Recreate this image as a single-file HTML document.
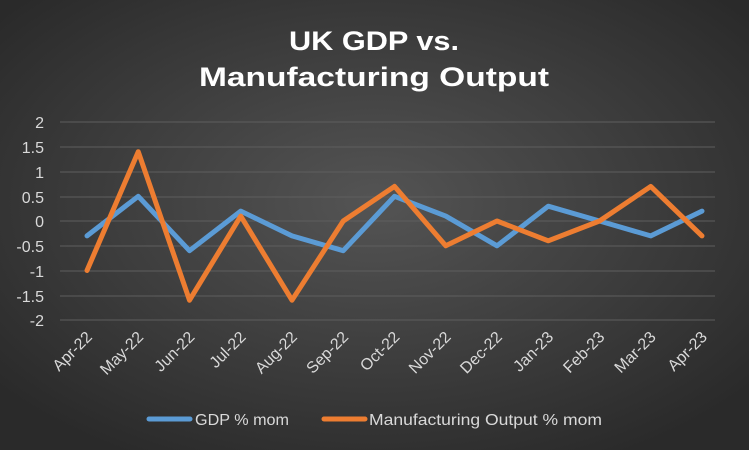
<!DOCTYPE html>
<html><head><meta charset="utf-8"><style>html,body{margin:0;padding:0;}body{width:749px;height:450px;overflow:hidden;}</style></head>
<body>
<svg width="749" height="450" xmlns="http://www.w3.org/2000/svg" font-family="Liberation Sans, sans-serif">
<defs>
<radialGradient id="bg" cx="50%" cy="45%" r="65%">
<stop offset="0" stop-color="#545454"/>
<stop offset="1" stop-color="#2a2a2a"/>
</radialGradient>
</defs>
<rect width="749" height="450" fill="url(#bg)"/>
<g fill="#fff" font-weight="bold" font-size="27" text-anchor="middle">
<text x="374" y="50" textLength="170" lengthAdjust="spacingAndGlyphs">UK GDP vs.</text>
<text x="374" y="86" textLength="350" lengthAdjust="spacingAndGlyphs">Manufacturing Output</text>
</g>
<g stroke="#5e5e5e" stroke-width="1">
<line x1="60" x2="715" y1="122" y2="122"/><line x1="60" x2="715" y1="147" y2="147"/>
<line x1="60" x2="715" y1="172" y2="172"/><line x1="60" x2="715" y1="197" y2="197"/>
<line x1="60" x2="715" y1="221" y2="221"/><line x1="60" x2="715" y1="246" y2="246"/>
<line x1="60" x2="715" y1="271" y2="271"/><line x1="60" x2="715" y1="296" y2="296"/>
<line x1="60" x2="715" y1="320" y2="320"/>
</g>
<g fill="#d9d9d9" font-size="16" text-anchor="end">
<text x="44" y="128">2</text><text x="44" y="153">1.5</text><text x="44" y="178">1</text>
<text x="44" y="203">0.5</text><text x="44" y="227">0</text><text x="44" y="252">-0.5</text>
<text x="44" y="277">-1</text><text x="44" y="302">-1.5</text><text x="44" y="326">-2</text>
</g>
<g fill="#d9d9d9" font-size="16" text-anchor="end">
<text transform="translate(93,338) rotate(-45)">Apr-22</text>
<text transform="translate(144.25,338) rotate(-45)">May-22</text>
<text transform="translate(195.5,338) rotate(-45)">Jun-22</text>
<text transform="translate(246.75,338) rotate(-45)">Jul-22</text>
<text transform="translate(298,338) rotate(-45)">Aug-22</text>
<text transform="translate(349.25,338) rotate(-45)">Sep-22</text>
<text transform="translate(400.5,338) rotate(-45)">Oct-22</text>
<text transform="translate(451.75,338) rotate(-45)">Nov-22</text>
<text transform="translate(503,338) rotate(-45)">Dec-22</text>
<text transform="translate(554.25,338) rotate(-45)">Jan-23</text>
<text transform="translate(605.5,338) rotate(-45)">Feb-23</text>
<text transform="translate(656.75,338) rotate(-45)">Mar-23</text>
<text transform="translate(708,338) rotate(-45)">Apr-23</text>
</g>
<polyline fill="none" stroke="#5b9bd5" stroke-width="5" stroke-linejoin="round" stroke-linecap="round"
points="87,235.9 138.25,196.3 189.5,250.7 240.75,211.1 292,235.9 343.25,250.7 394.5,196.3 445.75,216.1 497,245.8 548.25,206.2 599.5,221 650.75,235.9 702,211.1"/>
<polyline fill="none" stroke="#ed7d31" stroke-width="5" stroke-linejoin="round" stroke-linecap="round"
points="87,270.5 138.25,151.7 189.5,300.2 240.75,216.1 292,300.2 343.25,221 394.5,186.4 445.75,245.8 497,221 548.25,240.8 599.5,221 650.75,186.4 702,235.9"/>
<line x1="149" x2="190" y1="419" y2="419" stroke="#5b9bd5" stroke-width="5" stroke-linecap="round"/>
<line x1="324" x2="365" y1="419" y2="419" stroke="#ed7d31" stroke-width="5" stroke-linecap="round"/>
<g fill="#d9d9d9" font-size="16">
<text x="195" y="425" textLength="94" lengthAdjust="spacingAndGlyphs">GDP % mom</text>
<text x="369" y="425" textLength="233" lengthAdjust="spacingAndGlyphs">Manufacturing Output % mom</text>
</g>
</svg>
</body></html>
